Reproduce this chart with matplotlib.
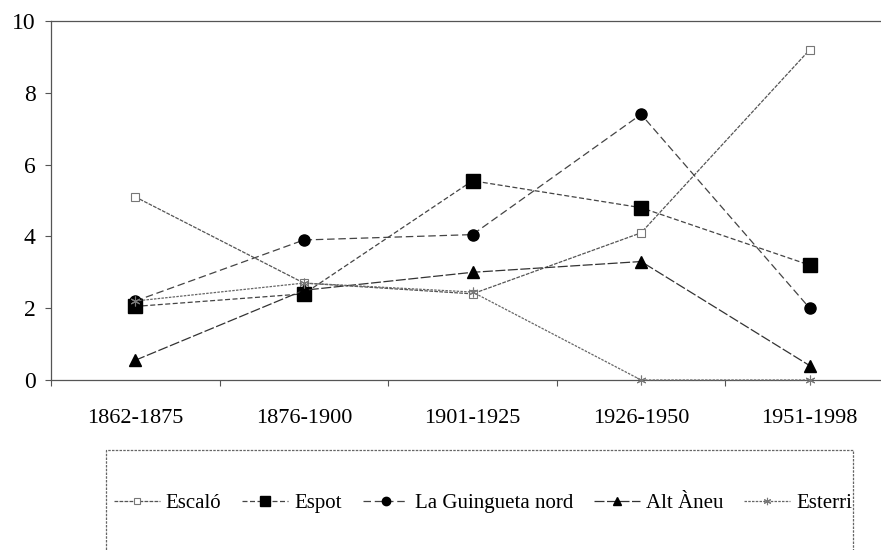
import matplotlib
matplotlib.use("Agg")
import matplotlib.pyplot as plt
from matplotlib.patches import Rectangle

periods = ["1862-1875", "1876-1900", "1901-1925", "1926-1950", "1951-1998"]
escalo = [5.1, 2.7, 2.4, 4.1, 9.2]
espot = [2.05, 2.4, 5.55, 4.8, 3.2]
guingueta = [2.2, 3.9, 4.05, 7.4, 2.0]
alt_aneu = [0.55, 2.5, 3.0, 3.3, 0.4]
esterri = [2.2, 2.7, 2.45, 0.0, 0.0]
series_names = ["Escaló", "Espot", "La Guingueta nord", "Alt Àneu", "Esterri"]
y_ticks = [0, 2, 4, 6, 8, 10]

plt.rcParams['font.family'] = ['Liberation Serif', 'DejaVu Serif']

W, H = 881, 550
fig = plt.figure(figsize=(W / 100, H / 100), dpi=100)
ax_l, ax_r, ax_t, ax_b = 51, 894, 21, 380
ax = fig.add_axes([ax_l / W, 1 - ax_b / H, (ax_r - ax_l) / W, (ax_b - ax_t) / H])

x = list(range(len(periods)))
styles = [
    dict(color='#555555', ls=(0, (3, 1)), lw=0.9, marker='s', ms=6, mfc='white', mec='#777777', mew=0.8),
    dict(color='#444444', ls=(0, (4, 2)), lw=0.9, marker='s', ms=10, mfc='black', mec='black'),
    dict(color='#444444', ls=(0, (6, 3)), lw=0.9, marker='o', ms=8, mfc='black', mec='black'),
    dict(color='#333333', ls=(0, (8, 2)), lw=0.9, marker='^', ms=8, mfc='black', mec='black'),
    dict(color='#666666', ls=(0, (2, 1)), lw=0.9, marker=(6, 2, 0), ms=7, mec='#777777', mew=0.8),
]
data = [escalo, espot, guingueta, alt_aneu, esterri]
handles = []
for name, vals, st in zip(series_names, data, styles):
    h, = ax.plot(x, vals, label=name, clip_on=False, zorder=3, **st)
    handles.append(h)

ax.set_xlim(-0.5, len(periods) - 0.5)
ax.set_ylim(0, 10)
ax.set_yticks(y_ticks)
ax.set_yticklabels([str(t) for t in y_ticks])
ax.set_xticks(x)
ax.set_xticklabels(periods)
ax.set_xticks([i - 0.5 for i in range(len(periods) + 1)], minor=True)
ax.tick_params(axis='x', which='major', length=0, pad=21, labelsize=16)
ax.tick_params(axis='x', which='minor', length=4, direction='out', color='#555555', width=0.8)
ax.tick_params(axis='y', length=4, direction='out', color='#555555', width=0.8, pad=7, labelsize=17)

for s in ['left', 'bottom', 'top']:
    ax.spines[s].set_color('#555555')
    ax.spines[s].set_linewidth(0.9)
ax.spines['right'].set_visible(False)

# legend frame
box = Rectangle((106 / W, 1 - 560 / H), (853 - 106) / W, (560 - 450) / H,
                transform=fig.transFigure, fill=False, ec='#666666', lw=0.9,
                ls=(0, (2, 1)), clip_on=False)
fig.patches.append(box)

leg = fig.legend(handles=handles, loc='center', bbox_to_anchor=(483 / W, 1 - 503 / H),
                 ncol=5, frameon=False, fontsize=15, handlelength=2.2,
                 handletextpad=0.3, columnspacing=1.0, markerscale=0.75)

fig.savefig("out.png", dpi=100)
